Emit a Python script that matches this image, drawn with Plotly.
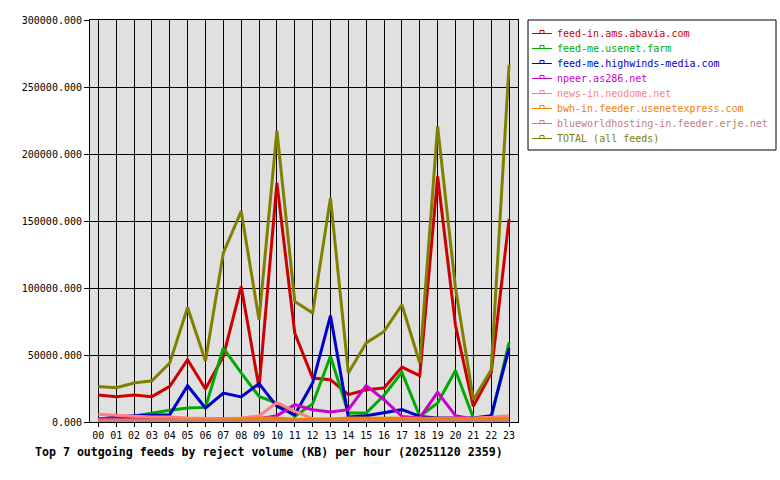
import plotly.graph_objects as go

hours = list(range(24))
hour_labels = [f"{h:02d}" for h in hours]

names = [
    "feed-in.ams.abavia.com",
    "feed-me.usenet.farm",
    "feed-me.highwinds-media.com",
    "npeer.as286.net",
    "news-in.neodome.net",
    "bwh-in.feeder.usenetexpress.com",
    "blueworldhosting-in.feeder.erje.net",
    "TOTAL (all feeds)",
]
colors = ["#cc0000", "#00aa00", "#0000cc", "#cc00cc", "#ff8080", "#f08000", "#c08080", "#808000"]

abavia = [20100, 18900, 20100, 18900, 26600, 46500, 24600, 49000, 101200, 25400, 178400, 66400,
          32800, 31600, 20400, 24100, 25400, 41000, 34600, 183300, 72000, 11700, 36600, 151500]
usenet_farm = [2000, 2500, 4500, 6700, 8700, 10400, 10900, 55200, 36600, 19100, 14200, 4200,
               13500, 49000, 6700, 6700, 20000, 37000, 4200, 14200, 38500, 3000, 3000, 59400]
highwinds = [2000, 3700, 4700, 5000, 5400, 27100, 10400, 21600, 18700, 28600, 11700, 5400,
             29100, 79300, 3700, 4700, 7200, 9200, 4200, 3000, 3000, 3000, 4700, 55000]
as286 = [2500, 2500, 2500, 2500, 2500, 2500, 2500, 2500, 2500, 2500, 4700, 12900,
         9200, 7500, 9200, 27100, 16600, 4200, 3000, 22100, 4700, 2000, 2000, 2000]
neodome = [5700, 4700, 4200, 3700, 3700, 3000, 2500, 2500, 3000, 4500, 14600, 7900,
           2500, 2000, 2000, 2500, 2500, 2500, 2500, 2500, 2500, 3000, 3500, 4700]
usenetexpress = [1500, 1500, 1200, 1200, 1500, 1500, 1500, 1500, 2000, 3000, 3000, 2000,
                 2000, 2000, 3000, 3000, 3000, 3000, 3000, 2500, 2500, 2500, 2500, 2500]
erje = [1200, 1200, 1200, 1200, 1200, 1200, 1200, 1200, 1200, 1200, 1200, 1200,
        1200, 1200, 1200, 1200, 1200, 1200, 1200, 1200, 1200, 1200, 1200, 1200]
total = [26500, 25600, 29100, 30800, 44000, 85500, 45500, 126100, 157200, 76300, 217400, 90000,
         81300, 167200, 36600, 59000, 67600, 87500, 44000, 220600, 100000, 16600, 39000, 266600]

series = [abavia, usenet_farm, highwinds, as286, neodome, usenetexpress, erje, total]

FONT = "DejaVu Sans Mono"
W, H = 780, 480
L, R, T, B = 90, 262, 20, 58
PW, PH = W - L - R, H - T - B


def px(x):
    return (x - L) / PW


def py(y):
    return (H - B - y) / PH


fig = go.Figure()
for name, color, vals in zip(names, colors, series):
    fig.add_trace(go.Scatter(x=hours, y=vals, mode="lines", name=name,
                             line=dict(color=color, width=3), showlegend=False))

shapes = []
annotations = []
# manual legend box
shapes.append(dict(type="rect", xref="paper", yref="paper", x0=px(528), x1=px(776),
                   y0=py(150), y1=py(20), line=dict(color="black", width=1), fillcolor="white",
                   layer="above"))
for i, (name, color) in enumerate(zip(names, colors)):
    yc = 33.5 + 15 * i
    shapes.append(dict(type="line", xref="paper", yref="paper", x0=px(532), x1=px(552),
                       y0=py(yc), y1=py(yc), line=dict(color=color, width=1), layer="above"))
    shapes.append(dict(type="rect", xref="paper", yref="paper", x0=px(540), x1=px(544),
                       y0=py(yc), y1=py(yc - 3), line=dict(color=color, width=1), layer="above"))
    annotations.append(dict(xref="paper", yref="paper", x=px(555), y=py(yc), text=name,
                            showarrow=False, xanchor="left", yanchor="middle",
                            font=dict(family=FONT, size=10, color=color)))

annotations.append(dict(xref="paper", yref="paper", x=px(268.5), y=py(452),
                        text="<b>Top 7 outgoing feeds by reject volume (KB) per hour (20251120 2359)</b>",
                        showarrow=False, xanchor="center", yanchor="middle",
                        font=dict(family=FONT, size=11.6, color="black")))

fig.update_layout(
    width=W, height=H,
    margin=dict(l=L, r=R, t=T, b=B, pad=0),
    paper_bgcolor="white", plot_bgcolor="#e0e0e0",
    font=dict(family=FONT, size=10, color="black"),
    shapes=shapes, annotations=annotations,
    showlegend=False,
)
fig.update_xaxes(range=[-0.465, 23.5], tickmode="array", tickvals=hours, ticktext=hour_labels,
                 showgrid=True, gridcolor="black", gridwidth=1, zeroline=False,
                 showline=True, linecolor="black", linewidth=1, mirror=True,
                 ticks="outside", ticklen=4, tickcolor="black",
                 tickfont=dict(family=FONT, size=10, color="black"), fixedrange=True)
fig.update_yaxes(range=[0, 300000], tick0=0, dtick=50000, tickformat=".3f",
                 showgrid=True, gridcolor="black", gridwidth=1, zeroline=False,
                 showline=True, linecolor="black", linewidth=1, mirror=True,
                 ticks="outside", ticklen=5, tickcolor="black",
                 tickfont=dict(family=FONT, size=10, color="black"), fixedrange=True)

fig.write_html("out.html")
